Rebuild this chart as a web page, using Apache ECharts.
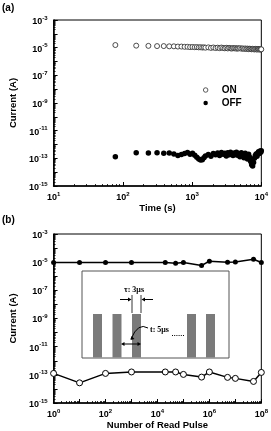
<!DOCTYPE html>
<html><head><meta charset="utf-8">
<script src="https://cdn.jsdelivr.net/npm/echarts@6/dist/echarts.min.js"></script>
<style>html,body{margin:0;padding:0;background:#fff}#c{width:271px;height:431px}</style>
</head><body><div id="c"></div>
<script>
// ---------- Panel (a): retention ----------
const timeSec = [78,156,234,312,390,468,546,624,702,780,858,936,1014,1092,1170,1248,1326,1404,1482,1560,
  1716,1872,2028,2184,2340,2496,2652,2808,2964,3120,3276,3432,3588,3744,3900,4056,4212,4368,4524,4680,
  4914,5148,5382,5616,5850,6084,6318,6552,6786,7020,7254,7488,7722,7956,8190,8424,8658,8892,9126,9360,9594,9828,9984];
const onCurrentA = [1.55e-5,1.4e-5,1.35e-5,1.3e-5,1.3e-5,1.25e-5,1.25e-5,1.2e-5,1.2e-5,1.15e-5,1.15e-5,1.1e-5,1.12e-5,1.08e-5,1.1e-5,1.05e-5,1.08e-5,1.02e-5,1.06e-5,1.0e-5,
  1.05e-5,9.6e-6,1.03e-5,9.4e-6,1.0e-5,9.2e-6,1.02e-5,9.5e-6,9.0e-6,9.8e-6,8.8e-6,9.6e-6,9.1e-6,8.6e-6,9.4e-6,8.9e-6,9.3e-6,8.5e-6,9.0e-6,8.7e-6,
  9.2e-6,8.4e-6,8.9e-6,8.2e-6,8.8e-6,8.0e-6,8.6e-6,7.8e-6,8.4e-6,8.1e-6,7.6e-6,8.3e-6,7.9e-6,7.4e-6,8.2e-6,7.7e-6,7.3e-6,8.0e-6,7.5e-6,7.8e-6,7.2e-6,7.6e-6,7.6e-6];
const offCurrentA = [1.3e-13,2.5e-13,2.4e-13,2.5e-13,2.3e-13,2.4e-13,2.1e-13,1.6e-13,1.9e-13,2.2e-13,2.6e-13,2.0e-13,2.3e-13,1.7e-13,1.2e-13,9e-14,7.5e-14,8e-14,1.1e-13,1.5e-13,
  1.9e-13,1.4e-13,2.2e-13,1.8e-13,2.4e-13,1.6e-13,2.6e-13,2.0e-13,2.3e-13,1.5e-13,2.5e-13,1.8e-13,2.7e-13,2.1e-13,1.6e-13,2.4e-13,1.9e-13,2.8e-13,1.7e-13,2.2e-13,
  1.3e-13,2.5e-13,1.8e-13,1.1e-13,2.3e-13,1.5e-13,9e-14,2.0e-13,1.2e-13,6e-14,3.5e-14,2.8e-14,5e-14,1.0e-13,1.6e-13,2.1e-13,1.4e-13,2.4e-13,3.0e-13,2.2e-13,3.4e-13,2.8e-13,3.6e-13];

// ---------- Panel (b): read disturb ----------
const readPulses = [1,10,100,1000,2e4,5e4,1e5,5e5,1e6,5e6,1e7,5e7,1e8];
const onCurrentB = [9.4e-6,9.4e-6,9.4e-6,9.4e-6,9.4e-6,8.5e-6,9.4e-6,5.8e-6,1.18e-5,1.0e-5,1.03e-5,1.6e-5,9.4e-6];
const offCurrentB = [1.26e-13,2.7e-14,1.26e-13,1.6e-13,1.6e-13,1.6e-13,1.07e-13,6.9e-14,1.6e-13,6.6e-14,5.6e-14,3.4e-14,1.48e-13];

// tick label exponents
const yLabelExps = [-15,-13,-11,-9,-7,-5,-3];
const xLabelExpsA = [1,2,3,4];
const xLabelExpsB = [0,2,4,6,8];

const FONT = 'Liberation Sans, Arial, sans-serif';
const rich = {
  b: {fontSize: 9, fontWeight: 'bold', fontFamily: FONT, color: '#000', padding: [3,0,0,0]},
  s: {fontSize: 6, fontWeight: 'bold', fontFamily: FONT, color: '#000', padding: [0,0,4,0]}
};
function expLabel(list) {
  return function (v) {
    const e = Math.round(Math.log10(v));
    return list.indexOf(e) >= 0 ? '{b|10}{s|' + e + '}' : '';
  };
}
const nameStyle = {fontSize: 9.5, fontWeight: 'bold', fontFamily: FONT, color: '#000'};
function logAxis(extra) {
  return Object.assign({
    type: 'log', logBase: 10, interval: 1,
    axisLine: {show: true, onZero: false, lineStyle: {color: '#000', width: 1.5}},
    axisTick: {show: true, inside: true, length: 4, lineStyle: {color: '#000', width: 1}},
    minorTick: {show: true, splitNumber: 9, length: 2, lineStyle: {color: '#000', width: 0.8}},
    splitLine: {show: false}, minorSplitLine: {show: false},
    nameLocation: 'middle', nameTextStyle: nameStyle
  }, extra);
}

const chart = echarts.init(document.getElementById('c'), null, {renderer: 'canvas'});

const pairs = (xs, ys) => xs.map((x, i) => [x, ys[i]]);

// inset arrowhead helper
function tri(x, y, dir) {
  const s = 3.5, h = 2;
  let pts;
  if (dir === 'r') pts = [[x, y], [x - s, y - h], [x - s, y + h]];
  else if (dir === 'l') pts = [[x, y], [x + s, y - h], [x + s, y + h]];
  else pts = [[x, y], [x + 1, y - 4], [x + 4, y - 1]];
  return {type: 'polygon', shape: {points: pts}, style: {fill: '#000'}, z: 102};
}
const serif = 'Liberation Serif, Times New Roman, serif';
const barX = [93, 112.5, 132, 187, 206];

const graphic = [
  {type: 'text', left: 2, top: 3, style: {text: '(a)', font: 'bold 10px ' + FONT, fill: '#000'}},
  {type: 'text', left: 2, top: 215, style: {text: '(b)', font: 'bold 10px ' + FONT, fill: '#000'}},
  {type: 'rect', shape: {x: 82, y: 271, width: 147, height: 87}, style: {fill: '#fff', stroke: '#555', lineWidth: 1}, z: 100}
];
barX.forEach(x => graphic.push({type: 'rect', shape: {x: x, y: 314, width: 9, height: 43.5}, style: {fill: '#7a7a7a'}, z: 101}));
graphic.push(
  {type: 'text', x: 124, y: 286, style: {text: 'τ: 3μs', font: 'bold 8px ' + serif, fill: '#000'}, z: 102},
  {type: 'line', shape: {x1: 132, y1: 295, x2: 132, y2: 313}, style: {stroke: '#000', lineWidth: 0.8}, z: 102},
  {type: 'line', shape: {x1: 141, y1: 295, x2: 141, y2: 313}, style: {stroke: '#000', lineWidth: 0.8}, z: 102},
  {type: 'line', shape: {x1: 120, y1: 299.5, x2: 130, y2: 299.5}, style: {stroke: '#000', lineWidth: 1}, z: 102},
  tri(131.5, 299.5, 'r'),
  {type: 'line', shape: {x1: 153, y1: 299.5, x2: 143, y2: 299.5}, style: {stroke: '#000', lineWidth: 1}, z: 102},
  tri(141.5, 299.5, 'l'),
  {type: 'text', x: 150, y: 326, style: {text: 't: 5μs', font: 'bold 8px ' + serif, fill: '#000'}, z: 102},
  {type: 'line', shape: {x1: 172, y1: 335.5, x2: 184, y2: 335.5}, style: {stroke: '#000', lineWidth: 1, lineDash: [1, 1.2]}, z: 102},
  {type: 'bezierCurve', shape: {x1: 148, y1: 328, cpx1: 138, cpy1: 322, x2: 131, y2: 339}, style: {stroke: '#000', lineWidth: 1, fill: null}, z: 102},
  tri(130.5, 340, 'dl'),
  {type: 'line', shape: {x1: 124, y1: 344, x2: 138, y2: 344}, style: {stroke: '#000', lineWidth: 1}, z: 102},
  tri(121, 344, 'l'),
  tri(141, 344, 'r')
);

chart.setOption({
  animation: false,
  backgroundColor: '#fff',
  textStyle: {fontFamily: FONT},
  grid: [
    {left: 36, top: 20, width: 226, height: 166, show: true, borderColor: '#000', borderWidth: 1, containLabel: false},
    {left: 36, top: 234, width: 227, height: 170, show: true, borderColor: '#000', borderWidth: 1, containLabel: false}
  ],
  xAxis: [
    logAxis({gridIndex: 0, min: 10, max: 1e4, name: 'Time (s)', nameGap: 17,
      axisLabel: {formatter: expLabel(xLabelExpsA), rich: rich, margin: 4}}),
    logAxis({gridIndex: 1, min: 1, max: 1e8, name: 'Number of Read Pulse', nameGap: 17,
      axisLabel: {formatter: expLabel(xLabelExpsB), rich: rich, margin: 4}})
  ],
  yAxis: [
    logAxis({gridIndex: 0, min: 1e-15, max: 1e-3, name: 'Current (A)', nameGap: 23,
      axisLabel: {formatter: expLabel(yLabelExps), rich: rich, margin: 6}}),
    logAxis({gridIndex: 1, min: 1e-15, max: 1e-3, name: 'Current (A)', nameGap: 23,
      axisLabel: {formatter: expLabel(yLabelExps), rich: rich, margin: 6}})
  ],
  legend: {
    data: [
      {name: 'ON', icon: 'circle', itemStyle: {color: '#fff', borderColor: '#333', borderWidth: 0.8}},
      {name: 'OFF', icon: 'circle', itemStyle: {color: '#000', borderWidth: 0}}
    ],
    orient: 'vertical', left: 198, top: 79, itemWidth: 22, itemHeight: 4.5, itemGap: 1,
    textStyle: {fontSize: 10, fontWeight: 'bold', fontFamily: FONT, color: '#000', lineHeight: 12}
  },
  series: [
    {name: 'ON', type: 'scatter', xAxisIndex: 0, yAxisIndex: 0, symbol: 'circle', symbolSize: 5,
      itemStyle: {color: '#fff', borderColor: '#222', borderWidth: 0.8, opacity: 1}, data: pairs(timeSec, onCurrentA)},
    {name: 'OFF', type: 'scatter', xAxisIndex: 0, yAxisIndex: 0, symbol: 'circle', symbolSize: 5.5,
      itemStyle: {color: '#000', opacity: 1}, data: pairs(timeSec, offCurrentA)},
    {name: 'ON state', type: 'line', xAxisIndex: 1, yAxisIndex: 1, symbol: 'circle', symbolSize: 5,
      itemStyle: {color: '#000'}, lineStyle: {color: '#000', width: 1.5}, data: pairs(readPulses, onCurrentB)},
    {name: 'OFF state', type: 'line', xAxisIndex: 1, yAxisIndex: 1, symbol: 'circle', symbolSize: 6,
      itemStyle: {color: '#fff', borderColor: '#000', borderWidth: 1}, lineStyle: {color: '#000', width: 1.5}, data: pairs(readPulses, offCurrentB)}
  ],
  graphic: graphic
});
</script></body></html>
